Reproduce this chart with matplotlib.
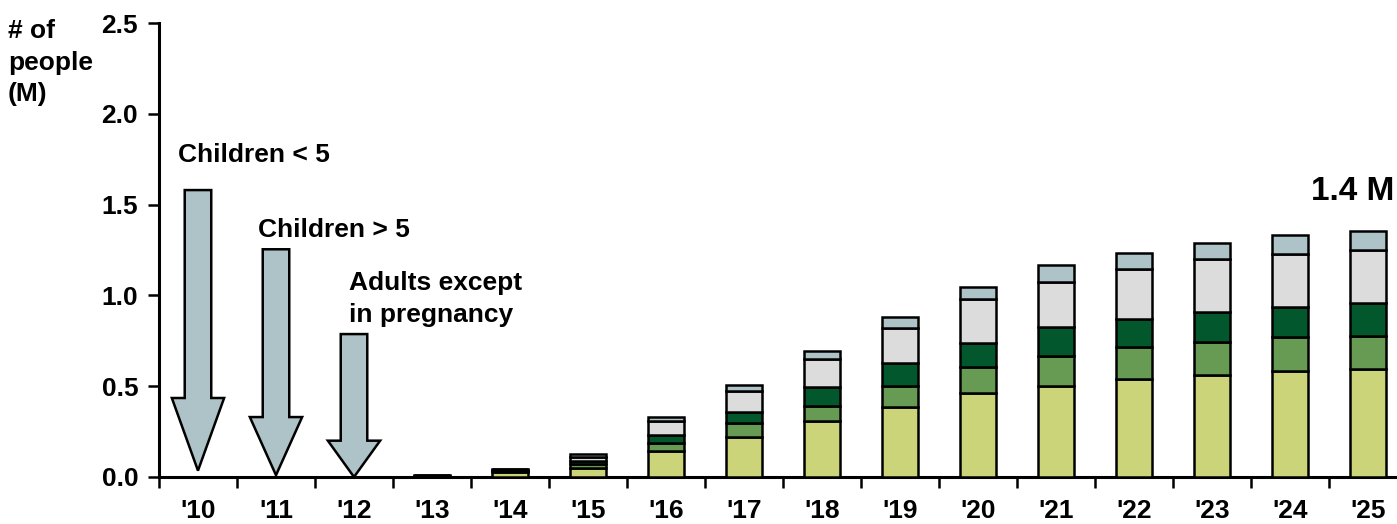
import numpy as np
import matplotlib
matplotlib.use("Agg")
import matplotlib.pyplot as plt
from matplotlib.ticker import FixedLocator

plt.rcParams['font.family'] = ['Liberation Sans', 'DejaVu Sans']
plt.rcParams['font.weight'] = 'bold'

# years and stacked segments (millions of people)
years = ["'10", "'11", "'12", "'13", "'14", "'15", "'16", "'17",
         "'18", "'19", "'20", "'21", "'22", "'23", "'24", "'25"]
seg_a = [0, 0, 0, 0.005, 0.025, 0.050, 0.143, 0.222, 0.308, 0.384, 0.461, 0.503, 0.538, 0.560, 0.584, 0.593]
seg_b = [0, 0, 0, 0.002, 0.008, 0.020, 0.042, 0.074, 0.085, 0.119, 0.143, 0.165, 0.176, 0.185, 0.185, 0.185]
seg_c = [0, 0, 0, 0.001, 0.006, 0.020, 0.046, 0.064, 0.101, 0.123, 0.132, 0.156, 0.154, 0.165, 0.169, 0.178]
seg_d = [0, 0, 0, 0.001, 0.004, 0.020, 0.077, 0.114, 0.156, 0.196, 0.243, 0.251, 0.276, 0.289, 0.292, 0.296]
seg_e = [0, 0, 0, 0.001, 0.002, 0.015, 0.022, 0.033, 0.044, 0.061, 0.066, 0.091, 0.088, 0.088, 0.101, 0.101]
seg_colors = ['#ccd47a', '#679a52', '#02582c', '#dcdcdc', '#aec3c7']

# rollout arrows: year index, top, head start, tip, label
arrow_x = [0, 1, 2]
arrow_top = [1.58, 1.254, 0.787]
arrow_head = [0.435, 0.33, 0.20]
arrow_tip = [0.035, 0.01, 0.0]
arrow_text = ['Children < 5', 'Children > 5', 'Adults except\nin pregnancy']
text_xy = [(-0.256, 1.773), (0.77, 1.36), (1.936, 0.98)]

fig = plt.figure(figsize=(13.97, 5.24), dpi=100)
ax = fig.add_axes([0.1138, 0.0897, 0.8862, 0.8664])

x = np.arange(len(years))
bottom = np.zeros(len(years))
for seg, c in zip([seg_a, seg_b, seg_c, seg_d, seg_e], seg_colors):
    mask = np.array(seg) > 0
    ax.bar(x[mask], np.array(seg)[mask], 0.46, bottom=bottom[mask], color=c,
           edgecolor='black', linewidth=1.8, zorder=3)
    bottom += np.array(seg)

for xi, top, hs, tip in zip(arrow_x, arrow_top, arrow_head, arrow_tip):
    ax.arrow(xi, top, 0, -(top - tip), width=0.34, head_width=0.67,
             head_length=hs - tip, length_includes_head=True,
             facecolor='#aec3c7', edgecolor='black', linewidth=1.8, zorder=4)

for (tx, ty), txt in zip(text_xy, arrow_text):
    ax.text(tx, ty, txt, fontsize=19, fontweight='bold', va='center', ha='left',
            linespacing=1.38)

ax.text(15.33, 1.57, '1.4 M', fontsize=24, fontweight='bold', ha='right', va='center')

ax.set_xlim(-0.5, 15.37)
ax.set_ylim(0, 2.5)
ax.set_yticks([0, 0.5, 1.0, 1.5, 2.0, 2.5])
ax.set_yticklabels(['0.0', '0.5', '1.0', '1.5', '2.0', '2.5'])
ax.set_xticks(x)
ax.set_xticklabels(years)
ax.xaxis.set_minor_locator(FixedLocator(np.arange(-0.5, 16, 1)))
ax.tick_params(axis='x', which='major', length=0, pad=16, labelsize=19)
ax.tick_params(axis='x', which='minor', length=8, width=1.8, direction='out')
ax.tick_params(axis='y', length=8, width=1.8, pad=7, labelsize=19)

for s in ['top', 'right']:
    ax.spines[s].set_visible(False)
for s in ['left', 'bottom']:
    ax.spines[s].set_linewidth(2.2)

fig.text(8 / 1397, 1 - 19 / 524, '# of\npeople\n(M)', fontsize=19, fontweight='bold',
         ha='left', va='top', linespacing=1.4)

fig.savefig('out.png', dpi=100)
